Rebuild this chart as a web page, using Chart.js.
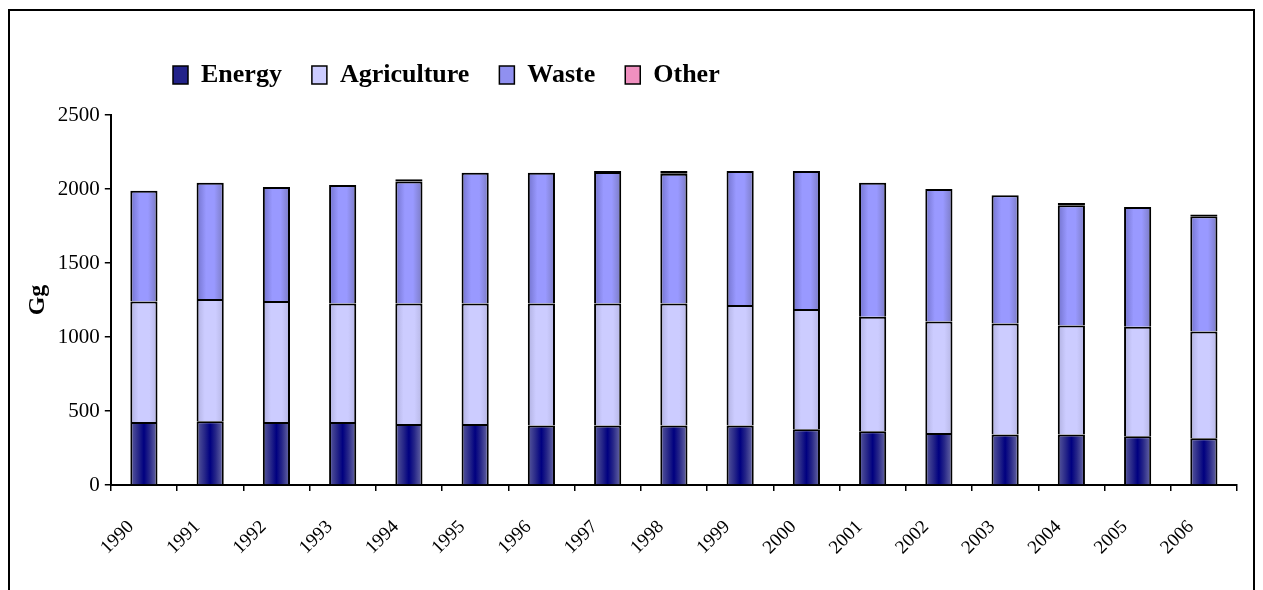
<!DOCTYPE html>
<html>
<head>
<meta charset="utf-8">
<script src="https://cdn.jsdelivr.net/npm/chart.js@4.4.1/dist/chart.umd.min.js"></script>
<style>
  html, body { margin: 0; padding: 0; background: #fff; }
  #wrap { position: relative; width: 1263px; height: 590px; overflow: hidden; }
  #frame { position: absolute; left: 8px; top: 9px; width: 1247px; height: 640px;
           box-sizing: border-box; border: 2px solid #000; pointer-events: none; }
</style>
</head>
<body>
<div id="wrap">
  <canvas id="emissionsChart" width="1263" height="590"></canvas>
  <div id="frame"></div>
</div>
<script>
const years = ['1990', '1991', '1992', '1993', '1994', '1995', '1996', '1997', '1998',
               '1999', '2000', '2001', '2002', '2003', '2004', '2005', '2006'];
const energy = [426, 431, 426, 426, 412, 412, 402, 402, 402, 402, 377, 363, 352, 341, 341, 330, 316];
const agriculture = [814, 825, 817, 800, 814, 814, 824, 824, 824, 814, 812, 774, 753, 751, 737, 740, 722];
const waste = [749, 787, 770, 801, 825, 884, 884, 889, 877, 905, 932, 906, 895, 866, 813, 809, 778];
const other = [0, 0, 0, 0, 15, 0, 0, 6, 18, 0, 0, 0, 0, 0, 15, 0, 12];
const yTicks = [0, 500, 1000, 1500, 2000, 2500];

const BAR_PCT = 0.41;
const serif = "'Liberation Serif', 'Times New Roman', serif";

// horizontal shading across each bar, like the old Excel "cylinder" fill
function shade(stops) {
    return function (c) {
        const chart = c.chart;
        const x = chart.scales && chart.scales.x;
        if (!x || c.dataIndex === undefined || !x.width) return stops[Math.floor(stops.length / 2)][1];
        const w = x.width / years.length * BAR_PCT;
        const cx = x.getPixelForValue(c.dataIndex);
        const g = chart.ctx.createLinearGradient(cx - w / 2, 0, cx + w / 2, 0);
        stops.forEach(s => g.addColorStop(s[0], s[1]));
        return g;
    };
}

const energyShade = [[0, '#5a5a9c'], [0.3, '#262688'], [0.5, '#000080'], [0.7, '#262688'], [1, '#6c6ca6']];
const agriShade = [[0, '#b0b0e0'], [0.3, '#ccccff'], [0.7, '#ccccff'], [1, '#b6b6e4']];
const wasteShade = [[0, '#7272cc'], [0.35, '#9999ff'], [0.65, '#9999ff'], [1, '#7a7ac2']];
const otherShade = [[0, '#cc6699'], [0.5, '#ff99cc'], [1, '#cc6699']];
const legendFill = ['#23238a', '#ccccff', '#9090f0', '#f090c0'];

function series(label, data, stops, border) {
    return {
        label: label,
        data: data,
        backgroundColor: shade(stops),
        borderColor: '#000',
        borderWidth: border,
        borderSkipped: false,
        barPercentage: BAR_PCT,
        categoryPercentage: 1.0
    };
}

const segBorder = { top: 2, left: 2, right: 2, bottom: 0 };
const otherBorder = { top: 2, left: 2, right: 2, bottom: 2 };

// legend sits left of centre and leaves a gap above the plot, as in the original
const legendPlace = {
    id: 'legendPlace',
    beforeInit(chart) {
        const lg = chart.legend;
        if (!lg) return;
        const fit = lg.fit;
        lg.fit = function () {
            fit.call(this);
            this.height += 17;
        };
    },
    beforeDraw(chart) {
        if (chart.legend) chart.legend.left = 143;
    }
};

const ctx = document.getElementById('emissionsChart').getContext('2d');
new Chart(ctx, {
    type: 'bar',
    data: {
        labels: years,
        datasets: [
            series('Energy', energy, energyShade, segBorder),
            series('Agriculture', agriculture, agriShade, segBorder),
            series('Waste', waste, wasteShade, segBorder),
            series('Other', other, otherShade, otherBorder)
        ]
    },
    options: {
        responsive: false,
        animation: false,
        layout: {
            padding: { top: 32, left: 23, right: 26, bottom: 6 }
        },
        plugins: {
            legend: {
                position: 'top',
                align: 'start',
                labels: {
                    color: '#000',
                    boxWidth: 15,
                    boxHeight: 18,
                    padding: 30,
                    font: { family: serif, size: 26, weight: 'bold' },
                    generateLabels(chart) {
                        const items = Chart.defaults.plugins.legend.labels.generateLabels(chart);
                        items.forEach((it, i) => {
                            it.fillStyle = legendFill[i];
                            it.strokeStyle = '#000';
                            it.lineWidth = 1.5;
                        });
                        return items;
                    }
                },
                onClick: null
            },
            tooltip: { enabled: false }
        },
        scales: {
            x: {
                stacked: true,
                border: { color: '#000', width: 2 },
                grid: {
                    drawOnChartArea: false,
                    drawTicks: true,
                    tickLength: 6,
                    color: '#000',
                    lineWidth: 1.5
                },
                ticks: {
                    color: '#000',
                    minRotation: 45,
                    maxRotation: 45,
                    padding: 25,
                    labelOffset: -13,
                    font: { family: serif, size: 19 }
                }
            },
            y: {
                stacked: true,
                min: yTicks[0],
                max: yTicks[yTicks.length - 1],
                afterBuildTicks(axis) {
                    axis.ticks = yTicks.map(v => ({ value: v }));
                },
                border: { color: '#000', width: 2 },
                grid: {
                    drawOnChartArea: false,
                    drawTicks: true,
                    tickLength: 6,
                    color: '#000',
                    lineWidth: 1.5
                },
                ticks: {
                    color: '#000',
                    padding: 5,
                    font: { family: serif, size: 21 },
                    callback: v => String(v)
                },
                title: {
                    display: true,
                    text: 'Gg',
                    color: '#000',
                    padding: { top: 0, bottom: 1 },
                    font: { family: serif, size: 24, weight: 'bold' }
                }
            }
        }
    },
    plugins: [legendPlace]
});
</script>
</body>
</html>
